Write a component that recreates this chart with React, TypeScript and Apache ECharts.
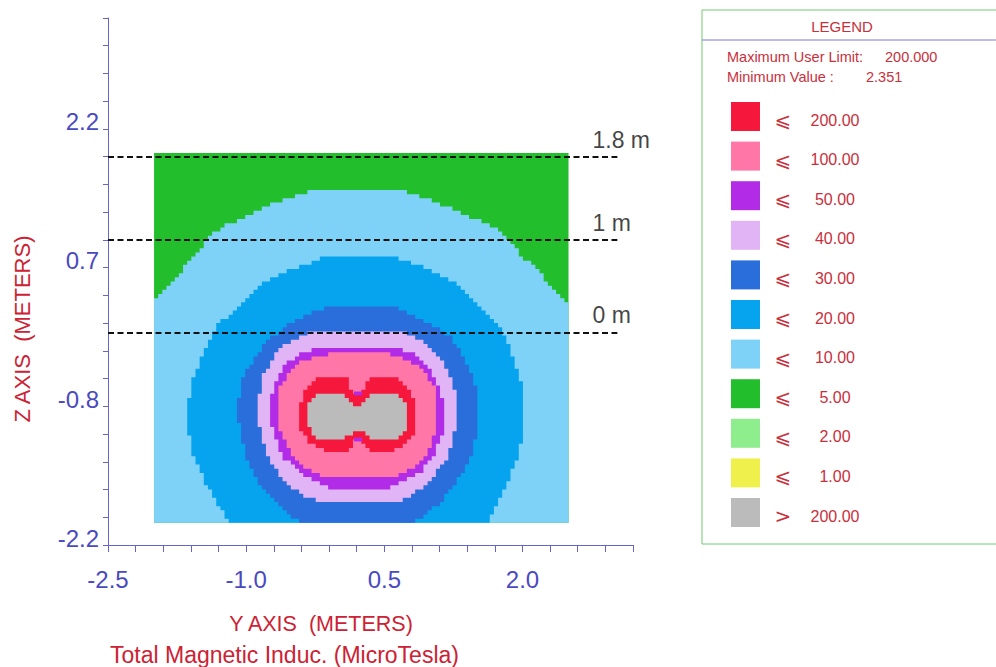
import React, { useEffect, useRef } from "react";
import * as echarts from "echarts";

// ---------- axis ticks & labels ----------
const X_TICKS = [-2.5, -2.2, -1.9, -1.6, -1.3, -1.0, -0.7, -0.4, -0.1, 0.2, 0.5, 0.8, 1.1, 1.4, 1.7, 2.0, 2.3, 2.6, 2.9, 3.2];
const X_LABELS = [-2.5, -1.0, 0.5, 2.0];
const Z_TICKS = [-2.3, -2.0, -1.7, -1.4, -1.1, -0.8, -0.5, -0.2, 0.1, 0.4, 0.7, 1.0, 1.3, 1.6, 1.9, 2.2, 2.5, 2.8, 3.1, 3.4];
const Z_LABEL_VALUES = [-2.3, -0.8, 0.7, 2.2];
const Z_LABEL_TEXTS = ["-2.2", "-0.8", "0.7", "2.2"];

// ---------- computed grid extent (metres) and its cell size ----------
const GRID_Y = [-2.0, 2.5];
const GRID_Z = [-2.06, 1.94];
const CELL = 0.045;

// ---------- contour region boundaries [y, z] ----------
const C5 = [[-2.0, 0.32], [-1.97, 0.38], [-1.83, 0.53], [-1.68, 0.70], [-1.53, 0.88], [-1.41, 1.02], [-1.28, 1.13], [-1.07, 1.23], [-0.85, 1.34], [-0.63, 1.42], [-0.41, 1.50], [-0.17, 1.55], [0.62, 1.55], [0.86, 1.48], [1.08, 1.40], [1.29, 1.31], [1.51, 1.21], [1.73, 1.10], [1.87, 0.96], [2.01, 0.81], [2.20, 0.63], [2.34, 0.45], [2.49, 0.31], [2.5, 0.27], [2.5, -2.06], [-2.0, -2.06]];
const C10 = [[-1.17, -2.06], [-1.32, -1.85], [-1.47, -1.57], [-1.58, -1.31], [-1.63, -1.06], [-1.63, -0.77], [-1.58, -0.52], [-1.47, -0.23], [-1.28, 0.13], [-1.17, 0.20], [-0.99, 0.38], [-0.82, 0.53], [-0.60, 0.65], [-0.34, 0.74], [-0.17, 0.81], [0.62, 0.81], [0.82, 0.74], [1.08, 0.63], [1.25, 0.53], [1.44, 0.38], [1.62, 0.20], [1.73, 0.09], [1.87, -0.20], [1.98, -0.52], [2.01, -0.77], [2.01, -1.06], [1.95, -1.35], [1.84, -1.63], [1.69, -1.93], [1.62, -2.06]];
const C20 = [[-0.36, -2.06], [-0.49, -2.00], [-0.66, -1.85], [-0.88, -1.60], [-0.99, -1.35], [-1.07, -1.06], [-1.09, -0.77], [-1.03, -0.49], [-0.92, -0.27], [-0.74, -0.06], [-0.49, 0.13], [-0.30, 0.21], [-0.14, 0.27], [0.59, 0.27], [0.76, 0.21], [0.92, 0.13], [1.22, -0.06], [1.36, -0.27], [1.47, -0.52], [1.52, -0.77], [1.51, -1.06], [1.44, -1.35], [1.29, -1.63], [1.11, -1.85], [0.92, -2.00], [0.78, -2.06]];
const C30 = [[-0.27, 0.0], [-0.52, -0.09], [-0.71, -0.27], [-0.82, -0.49], [-0.87, -0.77], [-0.85, -1.06], [-0.77, -1.35], [-0.60, -1.60], [-0.38, -1.78], [-0.12, -1.85], [0.57, -1.85], [0.78, -1.78], [1.0, -1.60], [1.19, -1.35], [1.27, -1.06], [1.29, -0.77], [1.24, -0.52], [1.14, -0.31], [0.97, -0.12], [0.71, 0.0]];
const C40 = [[-0.12, -0.15], [-0.41, -0.23], [-0.60, -0.38], [-0.71, -0.60], [-0.74, -0.85], [-0.71, -1.09], [-0.60, -1.35], [-0.41, -1.53], [-0.12, -1.68], [0.57, -1.68], [0.86, -1.53], [1.03, -1.35], [1.13, -1.09], [1.16, -0.85], [1.11, -0.60], [1.0, -0.38], [0.82, -0.23], [0.57, -0.15]];
const C50 = [[-0.09, -0.23], [-0.38, -0.31], [-0.52, -0.41], [-0.63, -0.60], [-0.65, -0.85], [-0.63, -1.09], [-0.52, -1.31], [-0.34, -1.49], [-0.09, -1.58], [0.53, -1.58], [0.78, -1.49], [0.97, -1.31], [1.05, -1.09], [1.08, -0.85], [1.05, -0.60], [0.92, -0.41], [0.78, -0.31], [0.53, -0.23]];
const C100 = [[0.21, -0.69], [0.17, -0.64], [0.12, -0.56], [0.10, -0.49], [-0.01, -0.48], [-0.20, -0.49], [-0.30, -0.56], [-0.38, -0.67], [-0.41, -0.81], [-0.42, -0.95], [-0.40, -1.08], [-0.32, -1.19], [-0.20, -1.27], [-0.01, -1.30], [0.11, -1.27], [0.16, -1.19], [0.21, -1.13], [0.26, -1.19], [0.31, -1.27], [0.44, -1.30], [0.62, -1.27], [0.75, -1.19], [0.82, -1.08], [0.85, -0.95], [0.84, -0.81], [0.80, -0.67], [0.73, -0.56], [0.62, -0.49], [0.44, -0.48], [0.33, -0.49], [0.30, -0.56], [0.26, -0.64]];
const C200 = [[0.21, -0.79], [0.15, -0.77], [0.10, -0.70], [0.04, -0.65], [-0.20, -0.65], [-0.28, -0.70], [-0.32, -0.79], [-0.33, -0.92], [-0.32, -1.03], [-0.27, -1.12], [-0.20, -1.17], [0.04, -1.17], [0.10, -1.12], [0.15, -1.07], [0.21, -1.06], [0.28, -1.07], [0.32, -1.12], [0.38, -1.17], [0.62, -1.17], [0.69, -1.12], [0.75, -1.03], [0.76, -0.92], [0.75, -0.79], [0.70, -0.70], [0.62, -0.65], [0.38, -0.65], [0.32, -0.70], [0.28, -0.77]];
const DOT_TOP = [[0.17, -0.64], [0.26, -0.64], [0.26, -0.68], [0.17, -0.68]];
const DOT_BOTTOM = [[0.17, -1.14], [0.26, -1.14], [0.26, -1.18], [0.17, -1.18]];

// ---------- legend ----------
const LEVEL_NAMES = ["⩽ 200.00", "⩽ 100.00", "⩽ 50.00", "⩽ 40.00", "⩽ 30.00", "⩽ 20.00", "⩽ 10.00", "⩽ 5.00", "⩽ 2.00", "⩽ 1.00", "> 200.00"];
const LEVEL_COLORS = ["#F5183C", "#FF76A7", "#B22CE8", "#E1B4F6", "#2A6EDB", "#06A4EF", "#7ED2F8", "#23BE2B", "#8EEE8E", "#F0F04C", "#BBBBBB"];
const MAX_USER_LIMIT = "200.000";
const MIN_VALUE = "2.351";

// ---------- reference lines ----------
const DASH_Z = [1.9, 1.0, 0.0];
const DASH_LABELS = ["1.8 m", "1 m", "0 m"];
const DASH_Y_START = -2.5;
const DASH_Y_END = 3.03;
const DASH_LABEL_Y = 2.76;

const FONT = "'Liberation Sans', Arial, Helvetica, sans-serif";
const AXIS_BLUE = "#4A4AC0";
const TEXT_RED = "#C8303C";

function colorOf(name: string) {
  return LEVEL_COLORS[LEVEL_NAMES.indexOf(name)];
}

// Render a boundary the way the gridded field shows it: snapped to the cell lattice (staircase).
function staircase(poly: number[][]) {
  const snap = (v: number, o: number) => o + Math.round((v - o) / CELL) * CELL;
  const out: number[][] = [];
  const push = (p: number[]) => {
    const last = out[out.length - 1];
    if (last && Math.abs(last[0] - p[0]) < 1e-9 && Math.abs(last[1] - p[1]) < 1e-9) return;
    if (last && Math.abs(last[0] - p[0]) > 1e-9 && Math.abs(last[1] - p[1]) > 1e-9) {
      out.push([p[0], last[1]]);
    }
    out.push(p);
  };
  for (let i = 0; i < poly.length; i++) {
    const a = poly[i];
    const b = poly[(i + 1) % poly.length];
    const n = Math.max(1, Math.ceil(Math.max(Math.abs(b[0] - a[0]), Math.abs(b[1] - a[1])) / (CELL / 3)));
    for (let k = 0; k < n; k++) {
      const t = k / n;
      const x = a[0] + (b[0] - a[0]) * t;
      const z = a[1] + (b[1] - a[1]) * t;
      push([Math.min(GRID_Y[1], snap(x, GRID_Y[0])), Math.max(GRID_Z[0], Math.min(GRID_Z[1], snap(z, GRID_Z[0])))]);
    }
  }
  return out;
}

function regionSeries(name: string, polys: number[][][], stepped = true) {
  const fill = colorOf(name);
  const shapes = polys.map((p) => (stepped ? staircase(p) : p));
  return {
    type: "custom",
    name,
    coordinateSystem: "cartesian2d",
    clip: true,
    itemStyle: { color: fill },
    silent: true,
    data: polys.map((p) => p[0]),
    renderItem: (params: any, api: any) => {
      const poly = shapes[params.dataIndex];
      return {
        type: "polygon",
        shape: { points: poly.map((pt) => api.coord(pt)) },
        style: { fill },
      };
    },
  };
}

export default function App() {
  const ref = useRef<HTMLDivElement>(null);

  useEffect(() => {
    if (!ref.current) return;
    const chart = echarts.init(ref.current, undefined, { renderer: "svg" });
    const GRID_POLY = [
      [GRID_Y[0], GRID_Z[1]],
      [GRID_Y[1], GRID_Z[1]],
      [GRID_Y[1], GRID_Z[0]],
      [GRID_Y[0], GRID_Z[0]],
    ];

    const series: any[] = [
      regionSeries("⩽ 5.00", [GRID_POLY], false),
      regionSeries("⩽ 10.00", [C5]),
      regionSeries("⩽ 20.00", [C10]),
      regionSeries("⩽ 30.00", [C20]),
      regionSeries("⩽ 40.00", [C30]),
      regionSeries("⩽ 50.00", [C40]),
      regionSeries("⩽ 100.00", [C50]),
      regionSeries("⩽ 200.00", [C100]),
      regionSeries("> 200.00", [C200]),
      regionSeries("⩽ 50.00", [DOT_TOP, DOT_BOTTOM], false),
      regionSeries("⩽ 2.00", []),
      regionSeries("⩽ 1.00", []),
      {
        type: "scatter",
        name: "heights",
        symbolSize: 0,
        silent: true,
        z: 5,
        data: DASH_Z.map((z, i) => ({ value: [DASH_LABEL_Y, z], name: DASH_LABELS[i] })),
        label: {
          show: true,
          formatter: "{b}",
          position: "right",
          distance: 0,
          offset: [0, -17],
          fontSize: 23,
          fontFamily: FONT,
          color: "#111111",
        },
        markLine: {
          silent: true,
          symbol: "none",
          animation: false,
          label: { show: false },
          lineStyle: { color: "#111111", width: 2, type: [6, 3.5] },
          data: DASH_Z.map((z) => [{ coord: [DASH_Y_START, z] }, { coord: [DASH_Y_END, z] }]),
        },
      },
    ];

    chart.setOption({
      animation: false,
      grid: { left: 108, top: 18, width: 525, height: 527 },
      xAxis: {
        type: "value",
        min: -2.5,
        max: 3.2,
        axisLine: { show: true, onZero: false, lineStyle: { color: "#6464CC", width: 1 } },
        axisTick: { show: true, customValues: X_TICKS, length: 7, lineStyle: { color: "#6464CC" } },
        axisLabel: {
          customValues: X_LABELS,
          formatter: (v: number) => v.toFixed(1),
          fontSize: 24,
          fontFamily: FONT,
          color: AXIS_BLUE,
          margin: 22,
          verticalAlign: "top",
        },
        splitLine: { show: false },
      },
      yAxis: {
        type: "value",
        min: -2.3,
        max: 3.4,
        axisLine: { show: true, onZero: false, lineStyle: { color: "#6464CC", width: 1 } },
        axisTick: { show: true, customValues: Z_TICKS, length: 5, lineStyle: { color: "#6464CC" } },
        axisLabel: {
          customValues: Z_LABEL_VALUES,
          formatter: (v: number) => {
            const i = Z_LABEL_VALUES.findIndex((t) => Math.abs(t - v) < 1e-6);
            return i >= 0 ? `{t|${Z_LABEL_TEXTS[i]}}` : "";
          },
          margin: 9,
          verticalAlign: "bottom",
          rich: {
            t: { fontSize: 24, fontFamily: FONT, color: AXIS_BLUE, lineHeight: 14 },
          },
        },
        splitLine: { show: false },
      },
      legend: {
        orient: "vertical",
        left: 731,
        top: 102,
        padding: 0,
        itemWidth: 29,
        itemHeight: 29,
        itemGap: 10.6,
        icon: "rect",
        selectedMode: false,
        data: LEVEL_NAMES,
        formatter: (name: string) => {
          const [sym, val] = name.split(" ");
          return `{s|${sym}}{v|${val}}`;
        },
        textStyle: {
          rich: {
            s: { width: 36, align: "center", fontSize: 20, color: TEXT_RED, fontFamily: "'DejaVu Sans', " + FONT, padding: [7, 0, 0, 0] },
            v: { width: 68, align: "center", fontSize: 16, color: TEXT_RED, fontFamily: FONT, padding: [7, 0, 0, 0] },
          },
        },
      },
      graphic: [
        { type: "rect", silent: true, shape: { x: 702, y: 10, width: 310, height: 534 }, style: { fill: "none", stroke: "#74C874", lineWidth: 1 } },
        { type: "line", silent: true, shape: { x1: 702, y1: 40, x2: 996, y2: 40 }, style: { stroke: "#7A7AC8", lineWidth: 1 } },
        { type: "text", silent: true, x: 842, y: 26, style: { text: "LEGEND", fill: TEXT_RED, fontSize: 15, fontFamily: FONT, align: "center", verticalAlign: "middle" } },
        { type: "text", silent: true, x: 727, y: 57, style: { text: "Maximum User Limit:", fill: TEXT_RED, fontSize: 14.5, fontFamily: FONT, align: "left", verticalAlign: "middle" } },
        { type: "text", silent: true, x: 885, y: 57, style: { text: MAX_USER_LIMIT, fill: TEXT_RED, fontSize: 14.5, fontFamily: FONT, align: "left", verticalAlign: "middle" } },
        { type: "text", silent: true, x: 727, y: 77, style: { text: "Minimum Value :", fill: TEXT_RED, fontSize: 14.5, fontFamily: FONT, align: "left", verticalAlign: "middle" } },
        { type: "text", silent: true, x: 866, y: 77, style: { text: MIN_VALUE, fill: TEXT_RED, fontSize: 14.5, fontFamily: FONT, align: "left", verticalAlign: "middle" } },
        { type: "text", silent: true, x: 321, y: 624, style: { text: "Y AXIS  (METERS)", fill: "#CC2233", fontSize: 21.5, fontFamily: FONT, align: "center", verticalAlign: "middle" } },
        { type: "text", silent: true, x: 110, y: 655, style: { text: "Total Magnetic Induc. (MicroTesla)", fill: "#CC2233", fontSize: 23, fontFamily: FONT, align: "left", verticalAlign: "middle" } },
        { type: "text", silent: true, x: 22, y: 329, rotation: Math.PI / 2, style: { text: "Z AXIS  (METERS)", fill: "#CC2233", fontSize: 22, fontFamily: FONT, align: "center", verticalAlign: "middle" } },
      ],
      series,
    });

    return () => chart.dispose();
  }, []);

  return <div ref={ref} style={{ position: "absolute", left: 0, top: 0, width: 996, height: 667, background: "#fff" }} />;
}
